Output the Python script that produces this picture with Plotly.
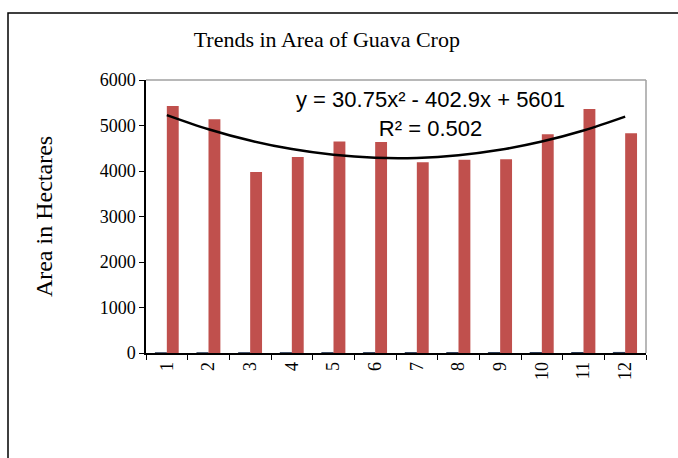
import numpy as np
import plotly.graph_objects as go

# data
years = ["1", "2", "3", "4", "5", "6", "7", "8", "9", "10", "11", "12"]
year_no = [1, 2, 3, 4, 5, 6, 7, 8, 9, 10, 11, 12]
area = [5430, 5140, 3980, 4310, 4650, 4640, 4190, 4250, 4260, 4810, 5360, 4830]
# polynomial trendline as printed on the chart
trend_coef = [30.75, -402.9, 5601]
trend_label = "y = 30.75x² - 402.9x + 5601<br>R² = 0.502"

trend = np.polyval(trend_coef, np.array(year_no))

serif = "Liberation Serif, Times New Roman, serif"

fig = go.Figure()
fig.add_trace(go.Bar(x=years, y=year_no, name="Year",
                     marker=dict(color="#2b3a55", line=dict(color="#2b3a55", width=1))))
fig.add_trace(go.Bar(x=years, y=area, name="Area",
                     marker=dict(color="#C0504D", line=dict(width=0))))
fig.add_trace(go.Scatter(x=years, y=trend, mode="lines", name="Trend",
                         line=dict(color="black", width=2.5, shape="spline")))

fig.update_layout(
    width=678, height=458,
    margin=dict(l=146, r=32, t=80, b=105),
    paper_bgcolor="white", plot_bgcolor="white",
    showlegend=False,
    barmode="group", bargap=0.43, bargroupgap=0,
    font=dict(family=serif, size=18, color="black"),
    title=dict(text="Trends in Area of Guava Crop", x=0.482, xanchor="center",
               y=0.915, yanchor="middle", automargin=False,
               font=dict(family=serif, size=22)),
    xaxis=dict(type="category", showline=True, linecolor="black", linewidth=1.5,
               ticks="outside", tickson="boundaries", ticklen=5, tickcolor="black",
               tickangle=-90, showgrid=False, automargin=False, tickfont=dict(size=18)),
    yaxis=dict(range=[0, 6000], dtick=1000, showline=True, linecolor="black",
               linewidth=1.5, ticks="outside", ticklen=5, tickcolor="black",
               showgrid=False, zeroline=False, automargin=False, tickfont=dict(size=18),
               title=dict(text="Area in Hectares", font=dict(size=24), standoff=40)),
    annotations=[dict(text=trend_label, xref="paper", yref="paper", x=0.568, y=0.877,
                      xanchor="center", yanchor="middle", showarrow=False, align="center",
                      font=dict(family="Liberation Sans, Arial, sans-serif", size=22))],
    shapes=[
        dict(type="line", xref="paper", yref="paper", x0=0, x1=1, y0=1, y1=1,
             line=dict(color="#a0a0a0", width=1.5)),
        dict(type="line", xref="paper", yref="paper", x0=1, x1=1, y0=0, y1=1,
             line=dict(color="#a0a0a0", width=1.5)),
        dict(type="rect", xref="paper", yref="paper", x0=-0.276, x1=1.1, y0=-0.4, y1=1.245,
             line=dict(color="black", width=1.5)),
    ],
)

# drop the browser's default body margin so the chart sits at the page corner
fig.write_html("out.html", config={"displayModeBar": False},
               post_script="document.body.style.margin='0';")
